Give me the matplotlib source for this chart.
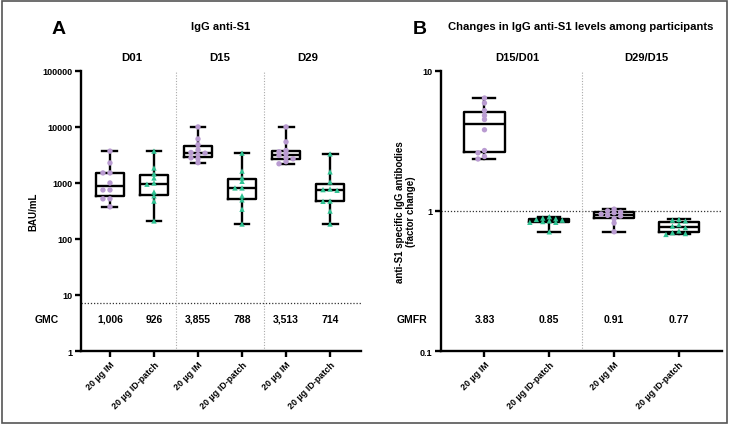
import numpy as np
import matplotlib
matplotlib.use('Agg')
import matplotlib.pyplot as plt
from matplotlib.patches import Rectangle

plt.rcParams['font.family'] = ['Liberation Sans', 'DejaVu Sans']
plt.rcParams['font.weight'] = 'bold'

# ---- data ----
groups = ['20 µg IM', '20 µg ID-patch']
days_a = ['D01', 'D15', 'D29']
days_b = ['D15/D01', 'D29/D15']

# IgG anti-S1, BAU/mL
d01_im = [3700, 2275, 1510, 1510, 1000, 750, 750, 520, 520, 375]
d01_id = [3700, 1850, 1450, 1230, 1000, 950, 690, 590, 475, 210]
d15_im = [10000, 6100, 4800, 3900, 3500, 3400, 3200, 2800, 2700, 2300]
d15_id = [3400, 1630, 1230, 1070, 815, 815, 590, 500, 340, 185]
d29_im = [10000, 5400, 3800, 3600, 3300, 3100, 2800, 2700, 2400, 2200]
d29_id = [3300, 1580, 1040, 780, 760, 740, 475, 470, 315, 185]
gmc = ['1,006', '926', '3,855', '788', '3,513', '714']
lloq = 7.2

# fold change
r1_im = [6.4, 5.9, 5.2, 4.8, 4.5, 3.8, 2.7, 2.6, 2.45, 2.35]
r1_id = [0.91, 0.89, 0.88, 0.87, 0.86, 0.85, 0.84, 0.83, 0.83, 0.71]
r2_im = [1.03, 1.0, 0.98, 0.97, 0.95, 0.93, 0.92, 0.88, 0.82, 0.71]
r2_id = [0.87, 0.86, 0.85, 0.80, 0.78, 0.76, 0.72, 0.70, 0.69, 0.68]
gmfr = ['3.83', '0.85', '0.91', '0.77']

purple = '#b99bd1'
green = '#2fc393'


def swarm(vals, dy, dx):
    # simple beeswarm offsets in log space
    lv = np.log10(vals)
    placed = []
    offs = []
    for v in lv:
        for k in [0, -1, 1, -2, 2, -3, 3]:
            o = k * dx
            ok = all(abs(v - pv) > dy or abs(o - po) > dx * 0.9 for pv, po in placed)
            if ok:
                break
        placed.append((v, o))
        offs.append(o)
    return np.array(offs)


def draw_boxes(ax, data, colors, markers, dy, dx):
    pos = np.arange(1, len(data) + 1)
    ax.boxplot(data, positions=pos, widths=0.62, whis=(0, 100), showfliers=False,
               boxprops=dict(color='black', linewidth=1.7),
               medianprops=dict(color='black', linewidth=1.7),
               whiskerprops=dict(color='black', linewidth=1.7),
               capprops=dict(color='black', linewidth=1.7),
               capwidths=0.34, zorder=2)
    for p, d, c, m in zip(pos, data, colors, markers):
        x = p + swarm(d, dy, dx)
        ax.scatter(x, d, s=15, color=c, marker=m, edgecolors='none', zorder=3)


def style(ax):
    for s in ['top', 'right']:
        ax.spines[s].set_visible(False)
    for s in ['left', 'bottom']:
        ax.spines[s].set_linewidth(1.7)
    ax.tick_params(axis='both', width=1.7, length=4.5, labelsize=6.5, pad=1.5)
    ax.minorticks_off()


fig = plt.figure(figsize=(7.29, 4.27), dpi=100)
fig.patches.append(Rectangle((0.003, 0.006), 0.994, 0.989, transform=fig.transFigure,
                             fill=False, edgecolor='#555555', linewidth=1.2))

# ---- panel A ----
ax1 = fig.add_axes([0.111, 0.1756, 0.384, 0.656])
data_a = [d01_im, d01_id, d15_im, d15_id, d29_im, d29_id]
draw_boxes(ax1, data_a, [purple, green] * 3, ['o', '^'] * 3, 0.06, 0.16)
ax1.set_yscale('log')
ax1.set_ylim(1, 100000)
ax1.set_xlim(0.34, 6.7)
ax1.set_yticks([1, 10, 100, 1000, 10000, 100000])
ax1.set_yticklabels(['1', '10', '100', '1000', '10000', '100000'])
ax1.set_xticks(range(1, 7))
ax1.set_xticklabels(groups * 3, rotation=45, ha='right', rotation_mode='anchor', fontsize=6.8)
style(ax1)
ax1.axhline(lloq, color='#333333', linestyle=(0, (1, 1.5)), linewidth=0.9, zorder=1)
for xs in [2.5, 4.5]:
    ax1.axvline(xs, color='#aaaaaa', linestyle=(0, (1, 1.5)), linewidth=0.8, zorder=1)
ax1.set_ylabel('BAU/mL', fontsize=7, fontweight='bold', labelpad=3)
for i, g in enumerate(gmc):
    ax1.text(i + 1, 3.73, g, ha='center', va='center', fontsize=7.5)
ax1.text(-0.43, 3.73, 'GMC', ha='center', va='center', fontsize=7.5)
for i, d in enumerate(days_a):
    ax1.text(2 * i + 1.5, 100000 * 10 ** (14 / 56), d, ha='center', va='center', fontsize=8.2)
fig.text(0.302, 0.937, 'IgG anti-S1', ha='center', va='center', fontsize=8)
fig.text(0.08, 0.93, 'A', ha='center', va='center', fontsize=14)

# ---- panel B ----
ax2 = fig.add_axes([0.605, 0.1756, 0.385, 0.656])
data_b = [r1_im, r1_id, r2_im, r2_id]
draw_boxes(ax2, data_b, [purple, green] * 2, ['o', '^'] * 2, 0.025, 0.1)
ax2.set_yscale('log')
ax2.set_ylim(0.1, 10)
ax2.set_xlim(0.33, 4.66)
ax2.set_yticks([0.1, 1, 10])
ax2.set_yticklabels(['0.1', '1', '10'])
ax2.set_xticks(range(1, 5))
ax2.set_xticklabels(groups * 2, rotation=45, ha='right', rotation_mode='anchor', fontsize=6.8)
style(ax2)
ax2.axhline(1, color='#333333', linestyle=(0, (1, 1.5)), linewidth=0.9, zorder=1)
ax2.axvline(2.5, color='#aaaaaa', linestyle=(0, (1, 1.5)), linewidth=0.8, zorder=1)
ax2.set_ylabel('anti-S1 specific IgG antibodies\n(factor change)', fontsize=7,
               fontweight='bold', labelpad=3, linespacing=1.1)
for i, g in enumerate(gmfr):
    ax2.text(i + 1, 0.17, g, ha='center', va='center', fontsize=7.5)
ax2.text(-0.12, 0.17, 'GMFR', ha='center', va='center', fontsize=7.5)
for i, d in enumerate(days_b):
    ax2.text(2 * i + 1.5, 10 * 10 ** (14 / 140), d, ha='center', va='center', fontsize=8)
fig.text(0.796, 0.937, 'Changes in IgG anti-S1 levels among participants',
         ha='center', va='center', fontsize=8.1)
fig.text(0.576, 0.93, 'B', ha='center', va='center', fontsize=14)

fig.savefig('out.png', dpi=100)
